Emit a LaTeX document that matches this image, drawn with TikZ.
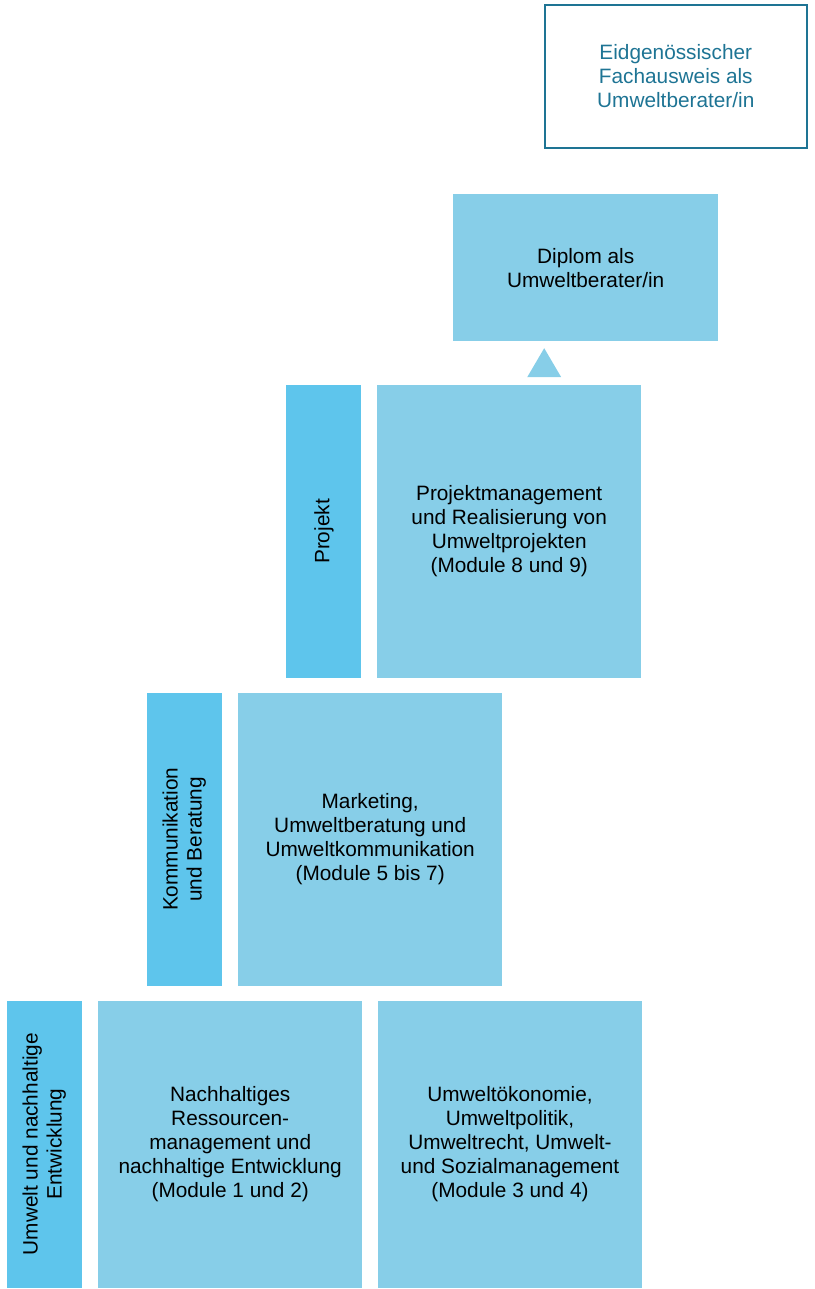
\documentclass[tikz,border=0pt]{standalone}
\usepackage{fontspec}
\setmainfont{Liberation Sans}
\usepackage{graphicx}
\usetikzlibrary{positioning, shapes.geometric}
\definecolor{modulblau}{HTML}{87CEE8}
\definecolor{bereichblau}{HTML}{5EC5EC}
\definecolor{fachblau}{HTML}{1E7494}

\begin{document}
\begin{tikzpicture}[node distance=7.5pt and 7.5pt,
	box/.style={rectangle, fill=modulblau, minimum width=132pt, minimum height=146.5pt, inner sep=2pt, align=center, font=\fontsize{10.4}{12}\selectfont},
	side/.style={rectangle, fill=bereichblau, minimum width=37.5pt, minimum height=146.5pt, inner sep=0pt, font=\fontsize{10.4}{12}\selectfont},
	certbox/.style={rectangle, draw=fachblau, line width=1pt, text=fachblau, minimum width=131pt, minimum height=71.5pt, align=center, font=\fontsize{10.4}{12}\selectfont},
	tip/.style={isosceles triangle, shape border rotate=90, isosceles triangle stretches, fill=modulblau, minimum width=17pt, minimum height=14.5pt, inner sep=0pt}]
	
	\useasboundingbox (0,0) rectangle (407pt,644.5pt);
	
	% Umwelt und nachhaltige Entwicklung
	\node[side, minimum height=143.5pt, anchor=south west] (umweltside) at (3.5pt,0.5pt) {\rotatebox{90}{\begin{tabular}{@{}c@{}}Umwelt und nachhaltige\\Entwicklung\end{tabular}}};
	\node[box, minimum height=143.5pt, right=of umweltside] (ressourcen) {Nachhaltiges\\Ressourcen-\\management und\\nachhaltige Entwicklung\\(Module 1 und 2)};
	\node[box, minimum height=143.5pt, right=of ressourcen] (oekonomie) {Umwelt\"okonomie,\\Umweltpolitik,\\Umweltrecht, Umwelt-\\und Sozialmanagement\\(Module 3 und 4)};
	
	% Kommunikation und Beratung
	\node[side, anchor=south west] (kommside) at ([xshift=70pt, yshift=7pt]umweltside.north west) {\rotatebox{90}{\begin{tabular}{@{}c@{}}Kommunikation\\und Beratung\end{tabular}}};
	\node[box, right=of kommside] (marketing) {Marketing,\\Umweltberatung und\\Umweltkommunikation\\(Module 5 bis 7)};
	
	% Projekt
	\node[side, anchor=south west] (projektside) at ([xshift=69.5pt, yshift=7pt]kommside.north west) {\rotatebox{90}{Projekt}};
	\node[box, right=of projektside] (projekt) {Projektmanagement\\und Realisierung von\\Umweltprojekten\\(Module 8 und 9)};
	
	% Abschluss
	\node[tip, anchor=south] (pfeil) at ([xshift=17.5pt, yshift=3.5pt]projekt.north) {};
	\node[box, minimum width=132.5pt, minimum height=73.5pt, anchor=south west] (diplom) at ([xshift=38pt, yshift=21.5pt]projekt.north west) {Diplom als\\Umweltberater/in};
	\node[certbox, anchor=south west] (fachausweis) at ([xshift=45.5pt, yshift=22.5pt]diplom.north west) {Eidgen\"ossischer\\Fachausweis als\\Umweltberater/in};
\end{tikzpicture}
\end{document}
